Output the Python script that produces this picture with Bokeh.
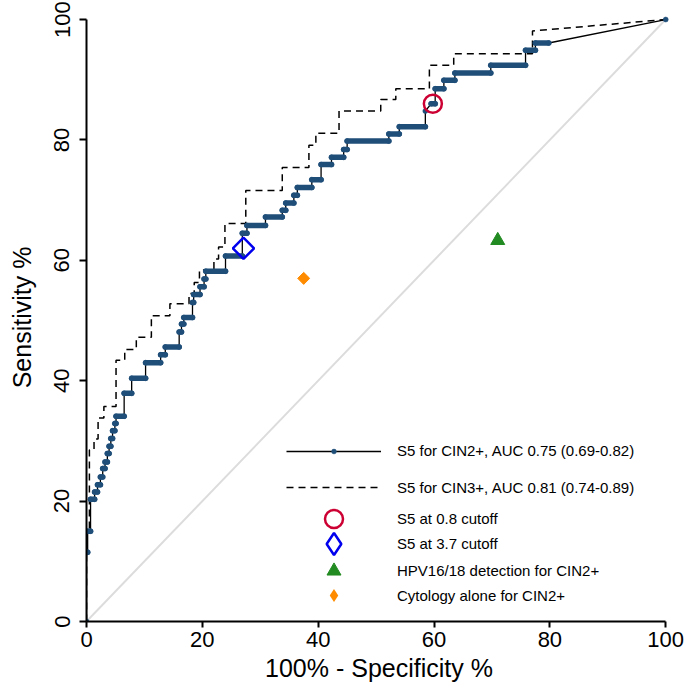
from bokeh.plotting import figure
from bokeh.models import Range1d, Legend, LegendItem
from bokeh.embed import file_html
from bokeh.resources import INLINE
import math

# ---- data ----
cin2_fpr = [0, 0, 0.2, 0.2, 0.7, 0.7, 1.4, 1.4, 1.9, 1.9, 2.4, 2.4, 2.8, 2.8, 3.2, 3.2,
            3.6, 3.6, 3.9, 3.9, 4.2, 4.2, 4.5, 4.5, 4.9, 4.9, 5.1, 5.1, 6.5, 6.5, 7.8, 7.8,
            10.2, 10.2, 12.8, 12.8, 13.6, 13.6, 16.0, 16.0, 16.4, 16.4, 16.8, 16.8, 18.3, 18.3,
            18.5, 18.5, 19.6, 19.6, 20.3, 20.3, 20.6, 20.6, 24.0, 24.0, 26.9, 26.9, 27.7, 27.7,
            30.9, 30.9, 33.8, 33.8, 34.4, 34.4, 35.8, 35.8, 36.4, 36.4, 38.9, 38.9, 40.5, 40.5,
            42.3, 42.3, 44.4, 44.4, 45.0, 45.0, 52.2, 52.2, 54.0, 54.0, 58.5, 58.5, 59.5, 60.2,
            60.2, 61.7, 61.7, 63.6, 63.6, 69.8, 69.8, 75.8, 75.8, 77.5, 77.5, 79.8, 100]
cin2_tpr = [0, 11.5, 11.5, 15.0, 15.0, 20.3, 20.3, 21.5, 21.5, 22.7, 22.7, 24.0, 24.0, 25.4, 25.4, 26.5,
            26.5, 27.9, 27.9, 29.1, 29.1, 30.4, 30.4, 31.7, 31.7, 32.9, 32.9, 34.1, 34.1, 37.9, 37.9, 40.4,
            40.4, 43.0, 43.0, 44.3, 44.3, 45.6, 45.6, 48.1, 48.1, 49.4, 49.4, 50.5, 50.5, 53.0,
            53.0, 54.3, 54.3, 55.6, 55.6, 56.9, 56.9, 58.2, 58.2, 60.7, 60.7, 64.5, 64.5, 65.8,
            65.8, 67.2, 67.2, 68.3, 68.3, 69.5, 69.5, 70.8, 70.8, 72.1, 72.1, 73.4, 73.4, 75.9,
            75.9, 77.1, 77.1, 78.4, 78.4, 79.8, 79.8, 81.0, 81.0, 82.2, 82.2, 84.8, 86.0, 86.0,
            88.5, 88.5, 89.9, 89.9, 91.1, 91.1, 92.4, 92.4, 94.9, 94.9, 96.1, 96.1, 100]

cin3_fpr = [0, 0, 0.5, 0.5, 1.3, 1.3, 2.0, 2.0, 3.0, 3.0, 5.1, 5.1, 6.6, 6.6, 8.6, 8.6,
            11.2, 11.2, 14.4, 14.4, 17.7, 17.7, 18.6, 18.6, 19.5, 19.5, 22.0, 22.0, 22.8, 22.8,
            23.9, 23.9, 27.5, 27.5, 33.8, 33.8, 38.4, 38.4, 39.6, 39.6, 43.6, 43.6, 50.8, 50.8,
            53.4, 53.4, 59.2, 59.2, 63.4, 63.4, 77.0, 77.0, 100]
cin3_tpr = [0, 15.0, 15.0, 28.5, 28.5, 30.3, 30.3, 33.8, 33.8, 35.7, 35.7, 43.4, 43.4, 45.2, 45.2, 47.2,
            47.2, 50.8, 50.8, 52.8, 52.8, 54.5, 54.5, 56.3, 56.3, 58.4, 58.4, 60.2, 60.2, 62.2,
            62.2, 66.1, 66.1, 71.6, 71.6, 75.4, 75.4, 79.1, 79.1, 81.1, 81.1, 84.8, 84.8, 86.7,
            86.7, 88.5, 88.5, 92.4, 92.4, 94.3, 94.3, 98.1, 100]

diag_x = [0, 100]
diag_y = [0, 100]

cut08_x = [59.8]
cut08_y = [86.0]
cut37_x = [27.1]
cut37_y = [62.0]
hpv_x = [71.0]
hpv_y = [63.3]
cyto_x = [37.5]
cyto_y = [57.0]

ticks = [0, 20, 40, 60, 80, 100]

labels = ["S5 for CIN2+, AUC 0.75 (0.69-0.82)",
          "S5 for CIN3+, AUC 0.81 (0.74-0.89)",
          "S5 at 0.8 cutoff",
          "S5 at 3.7 cutoff",
          "HPV16/18 detection for CIN2+",
          "Cytology alone for CIN2+"]

BLUE = "#1f4e79"
RED = "#cc0033"
DBLUE = "#0000ee"
GREEN = "#228b22"
ORANGE = "#ff8c00"
AXIS_FONT = "Liberation Sans"

p = figure(width=684, height=688, x_range=Range1d(0, 101), y_range=Range1d(0, 101),
           output_backend="svg", toolbar_location=None,
           min_border_left=86, min_border_right=13, min_border_top=13, min_border_bottom=67)
p.grid.visible = False
p.outline_line_color = None
p.background_fill_color = "white"

for ax in (p.xaxis[0], p.yaxis[0]):
    ax.bounds = (0, 100)
    ax.ticker = ticks
    ax.axis_line_width = 2
    ax.major_tick_line_width = 2
    ax.major_tick_in = 0
    ax.major_tick_out = 7
    ax.minor_tick_line_color = None
    ax.major_label_text_font = AXIS_FONT
    ax.major_label_text_font_size = "22px"
    ax.major_label_text_color = "black"
    ax.axis_label_text_font = AXIS_FONT
    ax.axis_label_text_font_size = "25px"
    ax.axis_label_text_font_style = "normal"
    ax.axis_label_text_color = "black"

p.xaxis.axis_label = "100% - Specificity %"
p.yaxis.axis_label = "Sensitivity %"
p.xaxis.major_tick_out = 6
p.xaxis.major_label_standoff = 4
p.xaxis.axis_label_standoff = 4
p.yaxis.major_label_standoff = 10
p.yaxis.axis_label_standoff = 16
p.yaxis.major_label_orientation = "vertical"

# chance line
p.line(diag_x, diag_y, line_color="#dcdcdc", line_width=2)

# CIN3+ dashed ROC
r_cin3 = p.line(cin3_fpr, cin3_tpr, line_color="black", line_width=1.5, line_dash="7 5")

# CIN2+ ROC
r_cin2 = p.line(cin2_fpr, cin2_tpr, line_color="black", line_width=1.3)
hx0, hy0, hx1, hy1 = [], [], [], []
for i in range(len(cin2_fpr) - 1):
    if cin2_tpr[i] == cin2_tpr[i + 1] and cin2_fpr[i + 1] > cin2_fpr[i] and cin2_fpr[i + 1] < 100:
        hx0.append(cin2_fpr[i]); hy0.append(cin2_tpr[i])
        hx1.append(cin2_fpr[i + 1]); hy1.append(cin2_tpr[i + 1])
p.segment(hx0, hy0, hx1, hy1, line_color=BLUE, line_width=5.5, line_cap="round")
r_cin2_pts = p.scatter(cin2_fpr, cin2_tpr, size=5, fill_color=BLUE, line_color=BLUE, line_width=0.5)

# single-point markers
r_c08 = p.scatter(cut08_x, cut08_y, marker="circle", size=18, fill_color=None,
                  line_color=RED, line_width=2.5)
p.scatter(cut37_x, cut37_y, marker="square", size=15, angle=math.pi / 4, fill_color=None,
          line_color=DBLUE, line_width=2.5)
r_hpv = p.scatter(hpv_x, hpv_y, marker="triangle", size=14, fill_color=GREEN, line_color=GREEN)
p.scatter(cyto_x, cyto_y, marker="square", size=8.5, angle=math.pi / 4,
          fill_color=ORANGE, line_color=ORANGE)
# legend keys for the diamonds (zero size on the plot; the legend sizes its own key)
r_c37_key = p.scatter(cut37_x, cut37_y, marker="diamond", size=0, fill_color=None,
                      line_color=DBLUE, line_width=2.5)
r_cyto_key = p.scatter(cyto_x, cyto_y, marker="diamond", size=0, fill_color=ORANGE,
                       line_color=ORANGE, line_width=0)

# legend: one small legend per row so that each key gets the reference's size
rows = [
    (labels[0], [r_cin2, r_cin2_pts], 12, 162),
    (labels[1], [r_cin3], 20, 124),
    (labels[2], [r_c08], 45, 80),
    (labels[3], [r_c37_key], 55, 50),
    (labels[4], [r_hpv], 35, 33),
    (labels[5], [r_cyto_key], 32, 10),
]
for lab, rends, gh, yoff in rows:
    lg = Legend(items=[LegendItem(label=lab, renderers=rends)], location=(200, yoff))
    lg.glyph_width = 95
    lg.glyph_height = gh
    lg.label_height = gh
    lg.padding = 0
    lg.margin = 0
    lg.spacing = 0
    lg.label_standoff = 16
    lg.border_line_alpha = 0
    lg.background_fill_alpha = 0
    lg.label_text_font = "Liberation Sans"
    lg.label_text_font_size = "15px"
    lg.label_text_color = "black"
    p.add_layout(lg)

open("out.html", "w").write(file_html(p, INLINE))
